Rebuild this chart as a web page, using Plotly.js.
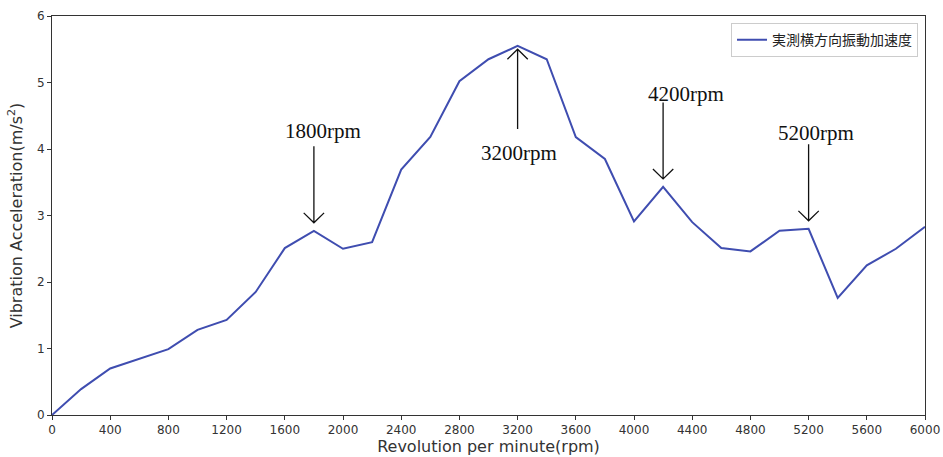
<!DOCTYPE html>
<html><head><meta charset="utf-8">
<script src="https://cdn.plot.ly/plotly-3.0.1.min.js"></script>
<style>html,body{margin:0;padding:0;background:#fff}#c{width:943px;height:457px}</style>
</head><body><div id="c"></div>
<script>
const rpm = [0,200,400,600,800,1000,1200,1400,1600,1800,2000,2200,2400,2600,2800,3000,3200,3400,3600,3800,4000,4200,4400,4600,4800,5000,5200,5400,5600,5800,6000];
const accel = [0,0.39,0.70,0.84,0.99,1.28,1.43,1.85,2.51,2.77,2.50,2.60,3.69,4.18,5.02,5.35,5.55,5.35,4.18,3.85,2.91,3.43,2.90,2.51,2.46,2.77,2.80,1.76,2.25,2.50,2.83];
const seriesName = '実測横方向振動加速度';
const peakRpm = [1800,3200,4200,5200];
const peakLabels = ['1800rpm','3200rpm','4200rpm','5200rpm'];
const xTicks = [0,400,800,1200,1600,2000,2400,2800,3200,3600,4000,4400,4800,5200,5600,6000];
const yTicks = [0,1,2,3,4,5,6];

const labelShift = {1800:[9,0], 3200:[1,-5], 4200:[23,-7], 5200:[7,-4]};
const shapes = [], annotations = [];
const hw = 70, hh = 0.15;
const serif = {family:'Liberation Serif, Times New Roman, serif', size:21, color:'#111'};
peakRpm.forEach((p,i)=>{
  const v = accel[rpm.indexOf(p)];
  const s = labelShift[p];
  if (p !== 3200) {
    const tip = v + 0.12, tail = tip + 1.15;
    shapes.push({type:'path', xref:'x', yref:'y', path:`M${p},${tail} L${p},${tip} M${p-hw},${tip+hh} L${p},${tip} L${p+hw},${tip+hh}`, line:{color:'#111', width:1.3}});
    annotations.push({x:p, y:tail+0.02, xref:'x', yref:'y', text:peakLabels[i], showarrow:false, yanchor:'bottom', xshift:s[0], yshift:s[1], font:serif});
  } else {
    const tip = v - 0.05, tail = tip - 1.2;
    shapes.push({type:'path', xref:'x', yref:'y', path:`M${p},${tail} L${p},${tip} M${p-hw},${tip-hh} L${p},${tip} L${p+hw},${tip-hh}`, line:{color:'#111', width:1.3}});
    annotations.push({x:p, y:tail-0.08, xref:'x', yref:'y', text:peakLabels[i], showarrow:false, yanchor:'top', xshift:s[0], yshift:s[1], font:serif});
  }
});

const trace = {x:rpm, y:accel, type:'scatter', mode:'lines', name:seriesName, line:{color:'#3f4db0', width:2}};
const axisFont = {family:'DejaVu Sans, sans-serif', size:12, color:'#333'};
const titleFont = {family:'DejaVu Sans, sans-serif', size:16, color:'#333'};
const layout = {
  width:943, height:457,
  margin:{l:52, r:18, t:16, b:42},
  paper_bgcolor:'#fff', plot_bgcolor:'#fff',
  showlegend:true,
  legend:{x:0.992, y:0.982, xanchor:'right', yanchor:'top', bgcolor:'#fff', bordercolor:'#ccc', borderwidth:1, font:{family:'Noto Sans CJK JP, sans-serif', size:14, color:'#222'}},
  xaxis:{range:[0,6000], tickvals:xTicks, ticks:'outside', ticklen:4, tickcolor:'#333', showgrid:false, zeroline:false, showline:true, linecolor:'#333', linewidth:1, mirror:true, tickfont:axisFont,
    title:{text:'Revolution per minute(rpm)', font:titleFont, standoff:2}},
  yaxis:{range:[0,6], tickvals:yTicks, ticks:'outside', ticklen:4, tickcolor:'#333', showgrid:false, zeroline:false, showline:true, linecolor:'#333', linewidth:1, mirror:true, tickfont:axisFont,
    title:{text:'Vibration Acceleration(m/s<sup>2</sup>)', font:titleFont, standoff:10}},
  shapes, annotations
};
Plotly.newPlot('c', [trace], layout, {displayModeBar:false, staticPlot:true});
</script></body></html>
